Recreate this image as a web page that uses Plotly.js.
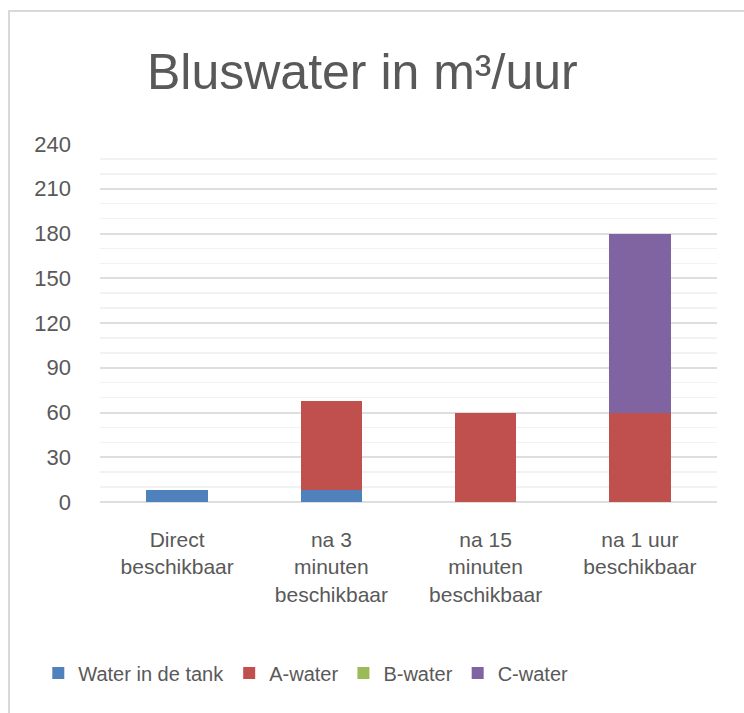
<!DOCTYPE html>
<html>
<head>
<meta charset="utf-8">
<script src="https://cdn.plot.ly/plotly-3.0.1.min.js"></script>
<style>
  html, body { margin: 0; padding: 0; background: #ffffff; }
  #wrap { position: relative; width: 744px; height: 713px; overflow: hidden; }
  #chart { position: absolute; left: 0; top: 0; width: 744px; height: 713px; }
  #frame { position: absolute; left: 8px; top: 10px; width: 760px; height: 730px;
           border-left: 2px solid #d9d9d9; border-top: 2px solid #d9d9d9; pointer-events: none; }
</style>
</head>
<body>
<div id="wrap">
  <div id="chart"></div>
  <div id="frame"></div>
</div>
<script>
const categories = [
  "Direct<br>beschikbaar",
  "na 3<br>minuten<br>beschikbaar",
  "na 15<br>minuten<br>beschikbaar",
  "na 1 uur<br>beschikbaar"
];
const seriesNames = ["Water in de tank", "A-water", "B-water", "C-water"];
const waterInDeTank = [8, 8, 0, 0];
const aWater = [0, 60, 60, 60];
const bWater = [0, 0, 0, 0];
const cWater = [0, 0, 0, 120];
const yTickValues = [0, 30, 60, 90, 120, 150, 180, 210, 240];
const chartTitle = "Bluswater in m³/uur";

const colors = ["#4F81BD", "#C0504D", "#9BBB59", "#8064A2"];
const seriesValues = [waterInDeTank, aWater, bWater, cWater];
const font = "Liberation Sans, Arial, sans-serif";

const traces = seriesValues.map((vals, i) => ({
  type: "bar",
  name: seriesNames[i],
  x: categories,
  y: vals,
  marker: { color: colors[i], line: { width: 0 } },
  hoverinfo: "x+y+name"
}));

const layout = {
  width: 744,
  height: 713,
  barmode: "stack",
  bargap: 0.6,
  paper_bgcolor: "#ffffff",
  plot_bgcolor: "#ffffff",
  margin: { l: 100, r: 27, t: 144, b: 211 },
  font: { family: font, color: "#595959", size: 21 },
  title: {
    text: chartTitle,
    font: { family: font, size: 50, color: "#595959" },
    x: 0.487, xref: "container", xanchor: "center",
    y: 0.9, yref: "container", yanchor: "middle"
  },
  xaxis: {
    type: "category",
    showgrid: false,
    showline: false,
    zeroline: false,
    ticks: "",
    ticklabelstandoff: 23,
    tickfont: { family: font, size: 21, color: "#595959" }
  },
  yaxis: {
    range: [0, 240],
    tickvals: yTickValues,
    ticktext: yTickValues.map(String),
    showgrid: true,
    gridcolor: "#dedede",
    gridwidth: 2,
    zeroline: true,
    zerolinecolor: "#dedede",
    zerolinewidth: 2,
    showline: false,
    ticks: "",
    ticklabelstandoff: 28,
    tickfont: { family: font, size: 22, color: "#595959" },
    minor: { dtick: 10, tick0: 0, showgrid: true, gridcolor: "#f2f2f2", gridwidth: 1.5 }
  },
  showlegend: true,
  legend: {
    orientation: "h",
    x: -0.1, xanchor: "left",
    y: -0.478, yanchor: "middle",
    font: { family: font, size: 20, color: "#595959" },
    bgcolor: "rgba(0,0,0,0)",
    traceorder: "normal"
  }
};

Plotly.newPlot("chart", traces, layout, { staticPlot: true, displayModeBar: false });
</script>
</body>
</html>
